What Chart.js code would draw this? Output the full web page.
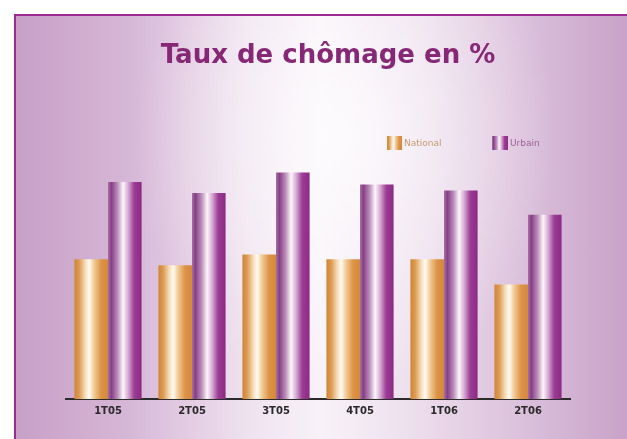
<!DOCTYPE html>
<html>
<head>
<meta charset="utf-8">
<script src="https://cdn.jsdelivr.net/npm/chart.js@4"></script>
<style>
  html, body { margin: 0; padding: 0; background: #fff; }
  #frame {
    position: absolute; left: 14px; top: 14px; width: 613px; height: 425px;
    border-top: 2px solid #9b2b93; border-left: 2px solid #9b2b93;
    box-sizing: border-box;
    background:
      radial-gradient(ellipse 210px 260px at 330px 120px, rgba(255,255,255,0.75), rgba(255,255,255,0) 100%),
      linear-gradient(to right, #c8a0c8 0%, #d6b6d6 18%, #efe2ef 38%, #f8f2f8 50%, #eee0ee 64%, #dcc2dc 82%, #c9a2c9 100%);
  }
  #wrap { position: absolute; left: 0; top: 0; width: 627px; height: 439px; }
</style>
</head>
<body>
<div id="frame"></div>
<div id="wrap"><canvas id="chart" width="627" height="439"></canvas></div>
<script>
// Taux de chômage, par trimestre
const quarters = ['1T05', '2T05', '3T05', '4T05', '1T06', '2T06'];
const national = [11.6, 11.1, 12.0, 11.6, 11.6, 9.5];
const urbain = [18.0, 17.1, 18.8, 17.8, 17.3, 15.3];

const orangeStops = [[0, '#cf8636'], [0.14, '#dc9a52'], [0.32, '#f6dcb8'], [0.44, '#fffbf4'], [0.58, '#f2cc98'], [0.8, '#dc9246'], [1, '#d4883a']];
const purpleStops = [[0, '#a474a4'], [0.1, '#883e86'], [0.3, '#c096be'], [0.45, '#fdf7fc'], [0.6, '#d6aad2'], [0.78, '#9c3c94'], [1, '#8c2a84']];

const CAT_PCT = 0.8;

// one horizontal gradient per bar, built from the category scale
function barGradient(stops) {
  return (ctx) => {
    const chart = ctx.chart;
    const area = chart.chartArea;
    if (!area || ctx.type !== 'data') return stops[1][1];
    const cx = chart.scales.x.getPixelForValue(ctx.dataIndex);
    const bw = (area.width / quarters.length) * CAT_PCT / 2;
    const left = ctx.datasetIndex === 0 ? cx - bw : cx;
    const g = chart.ctx.createLinearGradient(left, 0, left + bw, 0);
    stops.forEach(([o, c]) => g.addColorStop(o, c));
    return g;
  };
}

function swatch(c, x, y, w, h, stops) {
  const g = c.createLinearGradient(x, 0, x + w, 0);
  stops.forEach(([o, col]) => g.addColorStop(o, col));
  c.fillStyle = g;
  c.fillRect(x, y, w, h);
}

const decor = {
  id: 'decor',
  afterDraw(chart) {
    const c = chart.ctx;
    c.save();
    c.fillStyle = '#862876';
    c.font = 'bold 26px "DejaVu Sans"';
    c.textAlign = 'center';
    c.textBaseline = 'middle';
    c.fillText('Taux de chômage en %', 328, 56);

    // legend
    c.font = '9px "DejaVu Sans"';
    c.textAlign = 'left';
    swatch(c, 387, 136, 15, 14, orangeStops);
    c.fillStyle = '#c49a70';
    c.fillText('National', 404, 144);
    swatch(c, 492, 136, 16, 14, purpleStops);
    c.fillStyle = '#9a629a';
    c.fillText('Urbain', 510, 144);
    c.restore();
  }
};

new Chart(document.getElementById('chart'), {
  type: 'bar',
  data: {
    labels: quarters,
    datasets: [
      { label: 'National', data: national, backgroundColor: barGradient(orangeStops) },
      { label: 'Urbain', data: urbain, backgroundColor: barGradient(purpleStops) },
    ],
  },
  options: {
    responsive: false,
    animation: false,
    datasets: { bar: { categoryPercentage: CAT_PCT, barPercentage: 1 } },
    layout: { padding: { left: 66, right: 57, top: 158, bottom: 16 } },
    scales: {
      x: {
        grid: { display: false, drawTicks: false },
        border: { display: true, color: '#2b2b2b', width: 2 },
        ticks: { color: '#2a2a2a', font: { family: 'DejaVu Sans', size: 10, weight: 'bold' }, padding: 6 },
      },
      y: { display: false, min: 0, max: 20 },
    },
    plugins: {
      legend: { display: false },
      title: { display: false },
      tooltip: { enabled: false },
    },
  },
  plugins: [decor],
});
</script>
</body>
</html>
